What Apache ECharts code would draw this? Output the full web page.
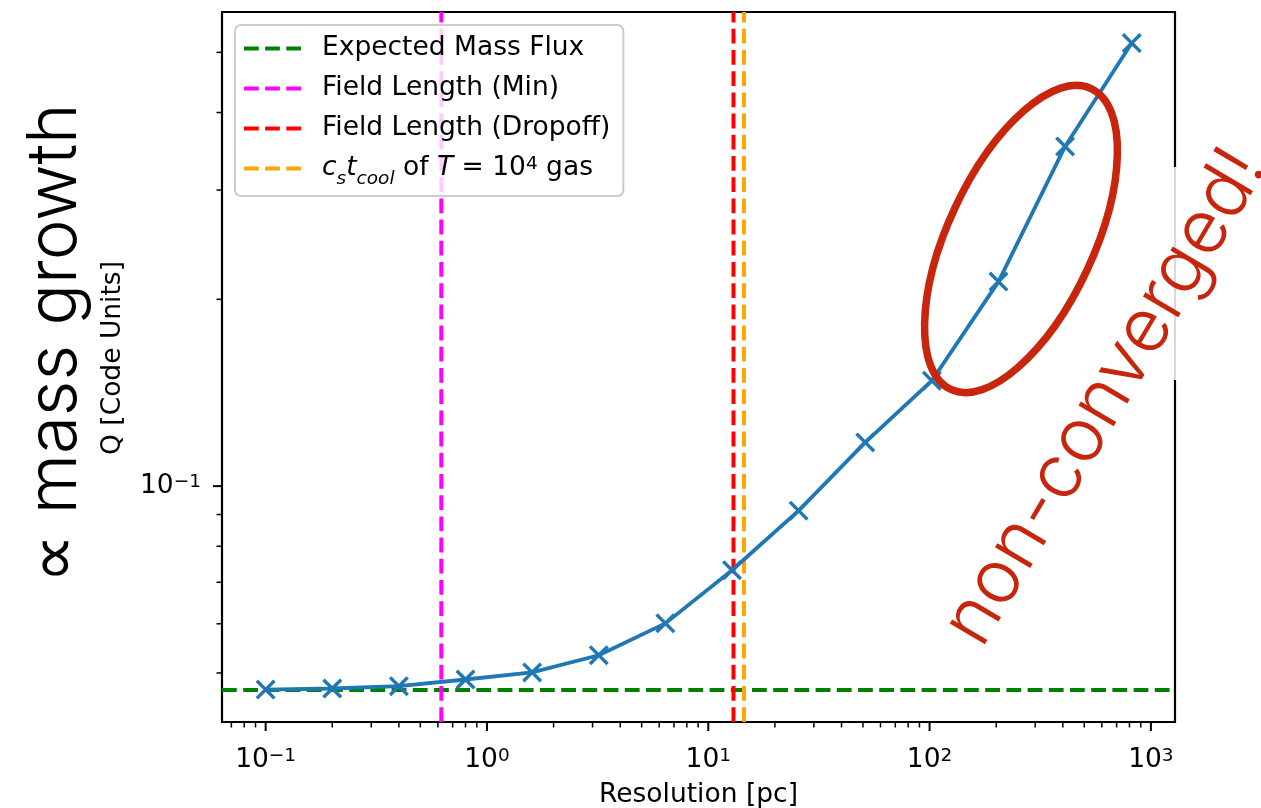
<!DOCTYPE html>
<html><head><meta charset="utf-8">
<script src="https://cdn.jsdelivr.net/npm/echarts@6/dist/echarts.min.js"></script>
<style>html,body{margin:0;padding:0;background:#fff}#c{width:1261px;height:808px}</style>
</head><body><div id="c"></div>
<script>
// ---- data ----
const resolution = [0.1, 0.2, 0.4, 0.8, 1.6, 3.2, 6.4, 12.8, 25.6, 51.2, 102.4, 204.8, 409.6, 819.2];
const qValues = [0.0470, 0.0472, 0.0476, 0.0488, 0.0501, 0.0534, 0.0601, 0.0732, 0.0913, 0.1176, 0.1479, 0.2136, 0.3527, 0.5176];
const expectedMassFlux = 0.04695;
const fieldLengthMin = 0.622;
const fieldLengthDropoff = 13.0;
const csTcoolLength = 14.5;
const xLimits = [0.0635, 1285];
const yLimits = [0.04168, 0.5808];
const xMajorTicks = [0.1, 1, 10, 100, 1000];
const xMinorTicks = [0.07, 0.08, 0.09, 0.2, 0.3, 0.4, 0.5, 0.6, 0.7, 0.8, 0.9, 2, 3, 4, 5, 6, 7, 8, 9, 20, 30, 40, 50, 60, 70, 80, 90, 200, 300, 400, 500, 600, 700, 800, 900];
const yMajorTicks = [0.1];
const yMinorTicks = [0.05, 0.06, 0.07, 0.08, 0.09, 0.2, 0.3, 0.4, 0.5];
const legendNames = ['Expected Mass Flux', 'Field Length (Min)', 'Field Length (Dropoff)', 'cs_tcool'];

// ---- chart ----
const FONT = 'DejaVu Sans';
const FS = 26.5;
const DASH = [14.8, 6.4];
const DASH_ICON = 'path://M0,0h14.8v4h-14.8zM21.2,0h14.8v4h-14.8zM42.4,0h14.8v4h-14.8z';
const chart = echarts.init(document.getElementById('c'), null, {renderer: 'canvas'});

function powLabel(v) {
  const e = Math.log10(v);
  const r = Math.round(e);
  if (Math.abs(e - r) > 1e-6) return '';
  return '{b|10}{s|' + (r < 0 ? '\u2212' + (-r) : String(r)) + '}';
}
const labelRich = {
  b: {fontFamily: FONT, fontSize: FS, lineHeight: 27, verticalAlign: 'bottom', color: '#000'},
  s: {fontFamily: FONT, fontSize: 18.5, lineHeight: 18.5, verticalAlign: 'top', color: '#000'}
};

function tickSeries(values, dir, len, width) {
  return {
    type: 'custom', silent: true, clip: false, z: 5,
    data: values.map(v => dir === 'x' ? [v, yLimits[0]] : [xLimits[0], v]),
    renderItem: function (params, api) {
      const p = api.coord([api.value(0), api.value(1)]);
      const cs = params.coordSys;
      let shape;
      if (dir === 'x') {
        const y0 = cs.y + cs.height;
        shape = {x1: p[0], y1: y0, x2: p[0], y2: y0 + len};
      } else {
        const x0 = cs.x;
        shape = {x1: x0 - len, y1: p[1], x2: x0, y2: p[1]};
      }
      return {type: 'line', shape: shape, style: {stroke: '#000', lineWidth: width}};
    }
  };
}

function vline(name, x, color) {
  return {
    name: name, type: 'line', symbol: 'none', z: 2,
    data: [[x, yLimits[0]], [x, yLimits[1]]],
    lineStyle: {color: color, width: 4, type: DASH},
    itemStyle: {color: color}
  };
}

const xSymbol = 'path://M0,12L12,0L50,38L88,0L100,12L62,50L100,88L88,100L50,62L12,100L0,88L38,50Z';

const option = {
  animation: false,
  backgroundColor: '#fff',
  grid: {left: 222, top: 12, width: 953, height: 710, show: true, borderColor: '#000', borderWidth: 2.2, backgroundColor: 'transparent', containLabel: false, outerBoundsMode: 'none'},
  legend: {
    data: legendNames.map(n => ({name: n, icon: DASH_ICON})),
    orient: 'vertical',
    left: 235, top: 25,
    itemWidth: 57, itemHeight: 4, itemGap: 13,
    padding: [10, 13, 7, 9],
    backgroundColor: 'rgba(255,255,255,0.8)',
    borderColor: '#cccccc', borderWidth: 2, borderRadius: 6,
    selectedMode: false,
    textStyle: {
      fontFamily: FONT, fontSize: FS, color: '#000', padding: [0, 0, 0, 16],
      rich: {
        n: {fontFamily: FONT, fontSize: FS, lineHeight: 27, verticalAlign: 'top', color: '#000'},
        i: {fontFamily: FONT, fontSize: FS, lineHeight: 27, verticalAlign: 'top', fontStyle: 'italic', color: '#000'},
        sub: {fontFamily: FONT, fontSize: 18.5, lineHeight: 18.5, padding: [15, 0, 0, 0], verticalAlign: 'top', fontStyle: 'italic', color: '#000'},
        sup: {fontFamily: FONT, fontSize: 18.5, lineHeight: 18.5, verticalAlign: 'top', color: '#000'}
      }
    },
    formatter: function (name) {
      if (name === 'cs_tcool') {
        return '{i|c}{sub|s}{i|t}{sub|cool}{n| of }{i|T}{n| = 10}{sup|4}{n| gas}';
      }
      return name;
    }
  },
  xAxis: {
    type: 'log', logBase: 10, min: xLimits[0], max: xLimits[1],
    name: 'Resolution [pc]', nameLocation: 'middle', nameGap: 60,
    nameTextStyle: {fontFamily: FONT, fontSize: FS, color: '#000'},
    axisLine: {show: false}, axisTick: {show: false}, splitLine: {show: false}, minorTick: {show: false},
    axisLabel: {margin: 25, formatter: powLabel, rich: labelRich, showMinLabel: false, showMaxLabel: false, hideOverlap: false}
  },
  yAxis: {
    type: 'log', logBase: 10, min: yLimits[0], max: yLimits[1],
    name: 'Q [Code Units]', nameLocation: 'middle', nameGap: 95, nameRotate: 90,
    nameTextStyle: {fontFamily: FONT, fontSize: FS, color: '#000', padding: [0, 0, 0, 18]},
    axisLine: {show: false}, axisTick: {show: false}, splitLine: {show: false}, minorTick: {show: false},
    axisLabel: {margin: 21, formatter: powLabel, rich: labelRich, showMinLabel: false, showMaxLabel: false, hideOverlap: false}
  },
  series: [
    {
      name: 'Expected Mass Flux', type: 'line', symbol: 'none', z: 2,
      data: [[xLimits[0], expectedMassFlux], [xLimits[1], expectedMassFlux]],
      lineStyle: {color: '#008000', width: 4, type: DASH}, itemStyle: {color: '#008000'}
    },
    vline('Field Length (Min)', fieldLengthMin, '#ff00ff'),
    vline('Field Length (Dropoff)', fieldLengthDropoff, '#ff0000'),
    vline('cs_tcool', csTcoolLength, '#ffa500'),
    {
      name: 'Q', type: 'line', z: 4,
      data: resolution.map((r, i) => [r, qValues[i]]),
      symbol: xSymbol, symbolSize: 20, symbolKeepAspect: true,
      lineStyle: {color: '#1f77b4', width: 3.8},
      itemStyle: {color: '#1f77b4', borderWidth: 0}
    },
    tickSeries(xMajorTicks, 'x', 9, 2),
    tickSeries(xMinorTicks, 'x', 5.5, 1.5),
    tickSeries(yMajorTicks, 'y', 9, 2),
    tickSeries(yMinorTicks, 'y', 5.5, 1.5)
  ],
  graphic: [
    {type: 'rect', z: 100, shape: {x: 1170, y: 167, width: 10, height: 213}, style: {fill: '#fff'}},
    {type: 'line', z: 101, shape: {x1: 1175, y1: 167, x2: 1175, y2: 380}, style: {stroke: '#cccccc', lineWidth: 1.5}},
    {type: 'ellipse', z: 102, x: 1021, y: 239, rotation: 65 * Math.PI / 180,
      shape: {cx: 0, cy: 0, rx: 166, ry: 73}, style: {fill: 'none', stroke: '#c8260c', lineWidth: 7.5}},
    {type: 'text', z: 103, x: 1105, y: 397, rotation: 59.4 * Math.PI / 180,
      style: {text: 'non-converged!', fill: '#c8260c', font: '300 75px Inter, Lato, sans-serif', textAlign: 'center', textVerticalAlign: 'middle'}},
    {type: 'text', z: 103, x: 55, y: 343, rotation: Math.PI / 2,
      style: {text: '\u221d mass growth', fill: '#000', font: '300 69px Inter, Lato, sans-serif', textAlign: 'center', textVerticalAlign: 'middle'}}
  ]
};
chart.setOption(option);
</script>
</body></html>
